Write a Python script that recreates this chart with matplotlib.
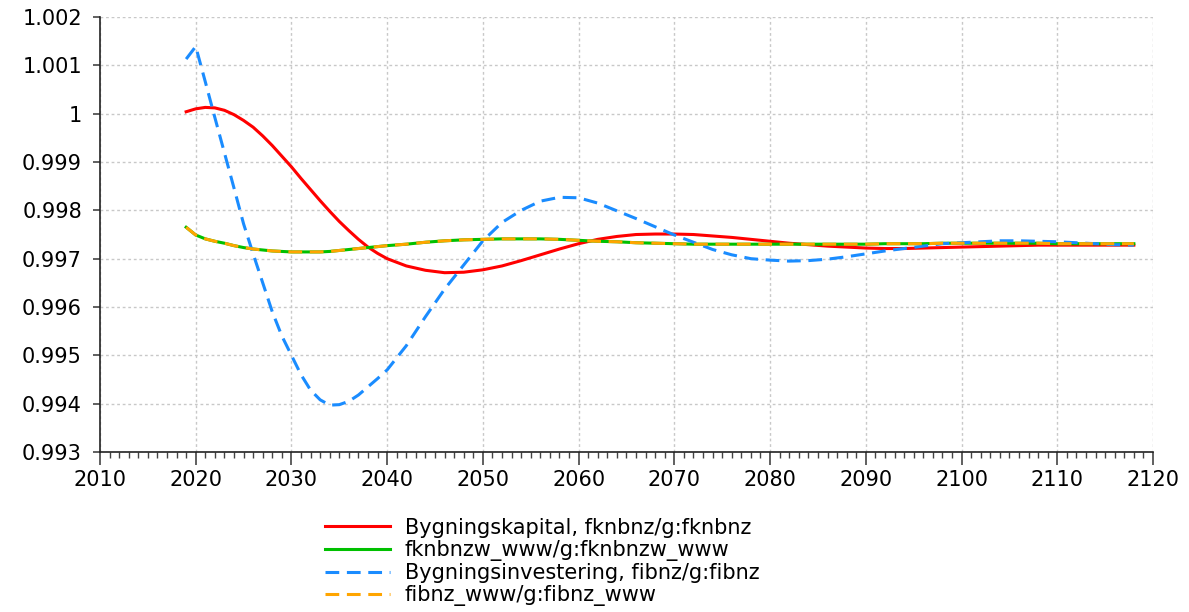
import matplotlib
matplotlib.use("Agg")
import matplotlib.pyplot as plt
from matplotlib.ticker import MultipleLocator, FuncFormatter

# years: annual to 2040, then every second year
years = list(range(2019, 2041)) + list(range(2042, 2119, 2))

fknbnz = [
    1.00004, 1.00010, 1.00013, 1.00012, 1.00007, 0.99998, 0.99986, 0.99972,
    0.99954, 0.99934, 0.99912, 0.99890, 0.99866, 0.99843, 0.99820, 0.99798,
    0.99777, 0.99758, 0.99740, 0.99724, 0.99711, 0.99700,
    0.99685, 0.99676, 0.99671, 0.99672, 0.99677, 0.99685, 0.99696, 0.99708,
    0.99720, 0.99731, 0.99740, 0.99746, 0.99750, 0.99751, 0.99751, 0.99750,
    0.99747, 0.99744, 0.99740, 0.99736, 0.99732, 0.99729, 0.99726, 0.99724,
    0.99722, 0.99721, 0.99721, 0.99722, 0.99723, 0.99724, 0.99725, 0.99726,
    0.99727, 0.99728, 0.99728, 0.99728, 0.99728, 0.99728, 0.99728,
]

fknbnzw_www = [
    0.99765, 0.99749, 0.99741, 0.99736, 0.99732, 0.99727, 0.99723, 0.99720,
    0.99718, 0.99716, 0.99715, 0.99714, 0.99714, 0.99714, 0.99714, 0.99715,
    0.99717, 0.99719, 0.99721, 0.99723, 0.99725, 0.99727,
    0.99730, 0.99734, 0.99737, 0.99739, 0.99740, 0.99741, 0.99741, 0.99741,
    0.99740, 0.99738, 0.99736, 0.99735, 0.99733, 0.99732, 0.99731, 0.99730,
    0.99730, 0.99730, 0.99730, 0.99730, 0.99730, 0.99730, 0.99730, 0.99730,
    0.99730, 0.99731, 0.99731, 0.99731, 0.99732, 0.99732, 0.99732, 0.99732,
    0.99732, 0.99732, 0.99731, 0.99731, 0.99731, 0.99731, 0.99731,
]

fibnz = [
    1.00113, 1.00139, 1.00066, 0.99992, 0.99919, 0.99846, 0.99772, 0.99710,
    0.99650, 0.99590, 0.99540, 0.99500, 0.99460, 0.99428, 0.99408, 0.99397,
    0.99398, 0.99405, 0.99418, 0.99435, 0.99452, 0.99470,
    0.99520, 0.99580, 0.99637, 0.99687, 0.99737, 0.99775, 0.99800, 0.99819,
    0.99827, 0.99826, 0.99815, 0.99799, 0.99783, 0.99766, 0.99749, 0.99734,
    0.99719, 0.99708, 0.99700, 0.99697, 0.99695, 0.99696, 0.99699, 0.99704,
    0.99710, 0.99716, 0.99721, 0.99726, 0.99731, 0.99733, 0.99735, 0.99737,
    0.99737, 0.99736, 0.99735, 0.99733, 0.99731, 0.99729, 0.99728,
]

fibnz_www = [
    0.99765, 0.99749, 0.99741, 0.99736, 0.99732, 0.99727, 0.99723, 0.99720,
    0.99718, 0.99716, 0.99715, 0.99714, 0.99714, 0.99714, 0.99714, 0.99715,
    0.99717, 0.99719, 0.99721, 0.99723, 0.99725, 0.99727,
    0.99730, 0.99734, 0.99737, 0.99739, 0.99740, 0.99741, 0.99741, 0.99741,
    0.99740, 0.99738, 0.99736, 0.99735, 0.99733, 0.99732, 0.99731, 0.99730,
    0.99730, 0.99730, 0.99730, 0.99730, 0.99730, 0.99730, 0.99730, 0.99730,
    0.99730, 0.99731, 0.99731, 0.99731, 0.99732, 0.99732, 0.99732, 0.99732,
    0.99732, 0.99732, 0.99731, 0.99731, 0.99731, 0.99731, 0.99731,
]

labels = [
    "Bygningskapital, fknbnz/g:fknbnz",
    "fknbnzw_www/g:fknbnzw_www",
    "Bygningsinvestering, fibnz/g:fibnz",
    "fibnz_www/g:fibnz_www",
]

plt.rcParams["font.family"] = "DejaVu Sans"
plt.rcParams["font.size"] = 15

fig = plt.figure(figsize=(11.89, 6.12), dpi=100)
ax = fig.add_axes([0.0841, 0.2614, 0.8856, 0.7108])

lw = 2.2
dash = (4.5, 2.5)
ax.plot(years, fknbnz, color="#ff0000", lw=lw, label=labels[0])
ax.plot(years, fknbnzw_www, color="#00c000", lw=lw, label=labels[1])
ax.plot(years, fibnz, color="#1a8cff", lw=lw, dashes=dash, label=labels[2])
ax.plot(years, fibnz_www, color="#ffa500", lw=lw, dashes=dash, label=labels[3])

ax.set_xlim(2010, 2120)
ax.set_ylim(0.993, 1.002)
ax.xaxis.set_major_locator(MultipleLocator(10))
ax.xaxis.set_minor_locator(MultipleLocator(1))
ax.yaxis.set_major_locator(MultipleLocator(0.001))
ax.yaxis.set_major_formatter(
    FuncFormatter(lambda v, p: f"{v:.3f}".rstrip("0").rstrip("."))
)

ax.grid(True, which="major", color="#c8c8c8", linestyle=(0, (2, 2)), lw=1)
ax.set_axisbelow(True)

for side in ("top", "right"):
    ax.spines[side].set_visible(False)
for side in ("left", "bottom"):
    ax.spines[side].set_color("#222222")
    ax.spines[side].set_linewidth(1.2)

ax.tick_params(axis="x", which="major", length=9, width=1.2, color="#444444", pad=4)
ax.tick_params(axis="x", which="minor", length=4, width=1, color="#444444")
ax.tick_params(axis="y", which="major", length=5, width=1.2, color="#444444", pad=8)

fig.legend(
    loc="upper left",
    bbox_to_anchor=(0.2649, 0.171),
    frameon=False,
    borderpad=0,
    handlelength=3.1,
    handletextpad=0.7,
    labelspacing=0.1,
    fontsize=15,
)

fig.savefig("out.png", dpi=100)
